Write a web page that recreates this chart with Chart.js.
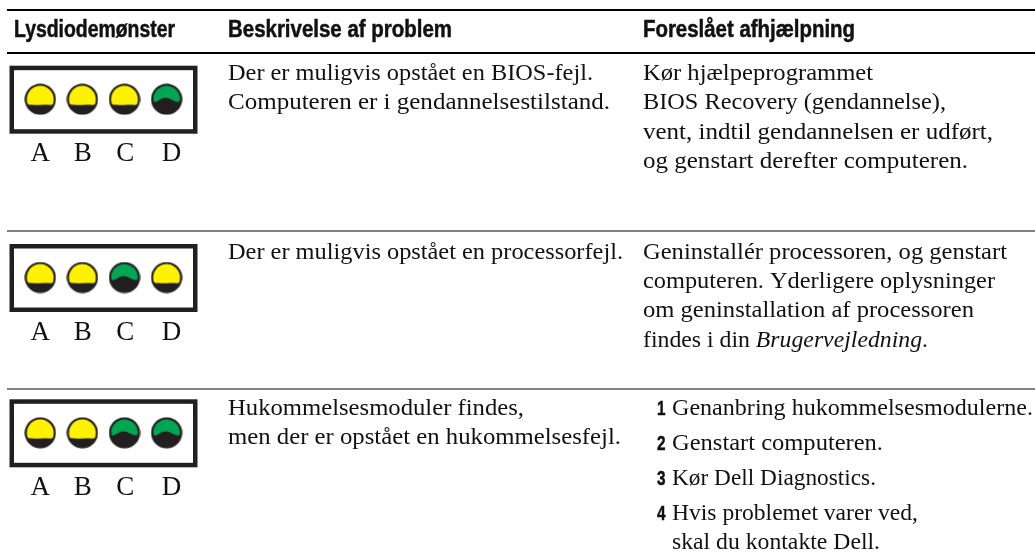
<!DOCTYPE html>
<html>
<head>
<meta charset="utf-8">
<style>
  html, body { margin: 0; padding: 0; background: #fff; }
  canvas { display: block; }
</style>
<script src="https://cdn.jsdelivr.net/npm/chart.js@4"></script>
</head>
<body>
<canvas id="ledChart" width="1035" height="558"></canvas>
<script>
const headers = ["Lysdiodemønster", "Beskrivelse af problem", "Foreslået afhjælpning"];
const ledColumns = ["A", "B", "C", "D"];
const row1Leds = ["Y", "Y", "Y", "G"];
const row2Leds = ["Y", "Y", "G", "Y"];
const row3Leds = ["Y", "Y", "G", "G"];
const row1Problem = ["Der er muligvis opstået en BIOS-fejl.", "Computeren er i gendannelsestilstand."];
const row2Problem = ["Der er muligvis opstået en processorfejl."];
const row3Problem = ["Hukommelsesmoduler findes,", "men der er opstået en hukommelsesfejl."];
const row1Remedy = ["Kør hjælpeprogrammet", "BIOS Recovery (gendannelse),", "vent, indtil gendannelsen er udført,", "og genstart derefter computeren."];
const row2Remedy = ["Geninstallér processoren, og genstart", "computeren. Yderligere oplysninger", "om geninstallation af processoren", "findes i din *Brugervejledning*."];
const row3Steps = ["1", "2", "3", "4", ""];
const row3Remedy = ["Genanbring hukommelsesmodulerne.", "Genstart computeren.", "Kør Dell Diagnostics.", "Hvis problemet varer ved,", "skal du kontakte Dell."];

const ledRows = [row1Leds, row2Leds, row3Leds];

// layout, in page pixels
const rowBoxTop = [65.7, 244, 399.3];
const BOX_H = 68, BOX_L = 9.5, BOX_R = 197.5;
const PITCH = 42.1, FIRST_LED = 40.3;
const SERIF = '"Liberation Serif", serif';
const HEAD_FONT = 'bold 23px "Liberation Sans", sans-serif';
const labelShift = [0, 0.4, 0.7, 5];
const headX = [14, 228, 643], headEnd = [175, 452, 855];
const row1ProblemEnd = [593, 610], row2ProblemEnd = [623], row3ProblemEnd = [524, 621];
const row1RemedyEnd = [873, 946, 993, 968], row2RemedyEnd = [1007, 995, 974, 928];
const row3RemedyEnd = [1033, 883, 876, 918, 880];

function ledImage(color, green) {
  const c = document.createElement("canvas");
  c.width = c.height = 32;
  const g = c.getContext("2d");
  g.translate(16, 16);
  g.fillStyle = "#231f20";
  g.beginPath(); g.arc(0, 0, 15.6, 0, Math.PI * 2); g.fill();
  g.fillStyle = color;
  g.beginPath();
  if (green) {
    g.arc(0, 0, 13.4, Math.PI * 1.04, Math.PI * 1.96);
    g.quadraticCurveTo(13.6, 3, 11, 2.6);
    g.bezierCurveTo(6, 1.5, 3, -1.6, -1, -1.6);
    g.bezierCurveTo(-5, -1.6, -8, 1.5, -11, 2.6);
    g.quadraticCurveTo(-13.6, 3, -13, 1);
  } else {
    g.arc(0, 0, 13.4, Math.PI * 0.94, Math.PI * 2.06);
    g.quadraticCurveTo(13, 6, 10, 5.8);
    g.bezierCurveTo(5, 4.8, -3, 6.2, -10, 5.6);
    g.quadraticCurveTo(-13, 5.6, -13.3, 2.5);
  }
  g.closePath(); g.fill();
  return c;
}

function pointsOf(state) {
  const pts = [];
  ledRows.forEach((row, r) => row.forEach((s, i) => {
    if (s === state) pts.push({ x: i, y: rowBoxTop[r] + BOX_H / 2 - 0.5 });
  }));
  return pts;
}

// draws one line squeezed or stretched so that it ends at xEnd, "*" toggles italic
function drawLine(ctx, text, x, y, xEnd) {
  const size = 24;
  const runs = text.split("*");
  let natural = 0;
  runs.forEach((run, i) => {
    ctx.font = (i % 2 ? "italic " : "") + size + "px " + SERIF;
    natural += ctx.measureText(run).width;
  });
  ctx.save();
  ctx.translate(x, y);
  ctx.scale((xEnd - x) / natural, 1);
  let px = 0;
  runs.forEach((run, i) => {
    ctx.font = (i % 2 ? "italic " : "") + size + "px " + SERIF;
    ctx.fillText(run, px, 0);
    px += ctx.measureText(run).width;
  });
  ctx.restore();
}

function drawFitted(ctx, text, x, y, width, heavy) {
  ctx.save();
  const w = ctx.measureText(text).width;
  ctx.translate(x, y);
  ctx.scale(width / w, 1);
  ctx.fillText(text, 0, 0);
  if (heavy) {
    ctx.strokeStyle = ctx.fillStyle;
    ctx.lineWidth = 0.5;
    ctx.strokeText(text, 0, 0);
  }
  ctx.restore();
}

const tablePlugin = {
  id: "tablePlugin",
  beforeDatasetsDraw(chart) {
    const ctx = chart.ctx, xs = chart.scales.x;
    ctx.save();
    ctx.fillStyle = "#000";
    ctx.fillRect(7, 9, 1028, 2);
    ctx.fillRect(7, 52, 1028, 2);
    ctx.fillStyle = "#808080";
    ctx.fillRect(7, 230, 1028, 2);
    ctx.fillRect(7, 388, 1028, 2);
    ctx.strokeStyle = "#231f20";
    ctx.lineWidth = 4.5;
    rowBoxTop.forEach(t => ctx.strokeRect(BOX_L + 2.25, t + 2.25, BOX_R - BOX_L - 4.5, BOX_H - 4.5));

    ctx.fillStyle = "#111";
    ctx.textBaseline = "alphabetic";
    ctx.font = HEAD_FONT;
    headers.forEach((h, i) => drawFitted(ctx, h, headX[i], 36.5, headEnd[i] - headX[i], true));

    ctx.font = "27px " + SERIF;
    ctx.textAlign = "center";
    rowBoxTop.forEach(t => ledColumns.forEach((name, i) => {
      ctx.fillText(name, xs.getPixelForValue(i) + labelShift[i], t + 95.5);
    }));
    ctx.textAlign = "left";

    const lh = 29.4;
    row1Problem.forEach((s, i) => drawLine(ctx, s, 228, 80 + i * lh, row1ProblemEnd[i]));
    row2Problem.forEach((s, i) => drawLine(ctx, s, 228, 258.5 + i * lh, row2ProblemEnd[i]));
    row3Problem.forEach((s, i) => drawLine(ctx, s, 228, 415 + i * lh, row3ProblemEnd[i]));
    row1Remedy.forEach((s, i) => drawLine(ctx, s, 643, 80 + i * lh, row1RemedyEnd[i]));
    row2Remedy.forEach((s, i) => drawLine(ctx, s, 643, 258.5 + i * lh, row2RemedyEnd[i]));
    const stepY = [415, 450, 485, 519.5, 549];
    row3Remedy.forEach((s, i) => {
      ctx.font = 'bold 20px "Liberation Sans", sans-serif';
      if (row3Steps[i]) drawFitted(ctx, row3Steps[i], 657, stepY[i], 8.5, true);
      drawLine(ctx, s, 672, stepY[i], row3RemedyEnd[i]);
    });
    ctx.restore();
  }
};

new Chart(document.getElementById("ledChart"), {
  type: "scatter",
  data: {
    datasets: [
      { label: "Yellow", data: pointsOf("Y"), pointStyle: ledImage("#fff200", false) },
      { label: "Green", data: pointsOf("G"), pointStyle: ledImage("#00a651", true) }
    ]
  },
  options: {
    responsive: false,
    animation: false,
    layout: { padding: 0, autoPadding: false },
    plugins: { legend: { display: false }, title: { display: false }, tooltip: { enabled: false } },
    scales: {
      x: { type: "linear", display: false, bounds: "data", min: -FIRST_LED / PITCH, max: (1035 - FIRST_LED) / PITCH },
      y: { type: "linear", display: false, bounds: "data", min: 0, max: 558, reverse: true }
    }
  },
  plugins: [tablePlugin]
});
</script>
</body>
</html>
